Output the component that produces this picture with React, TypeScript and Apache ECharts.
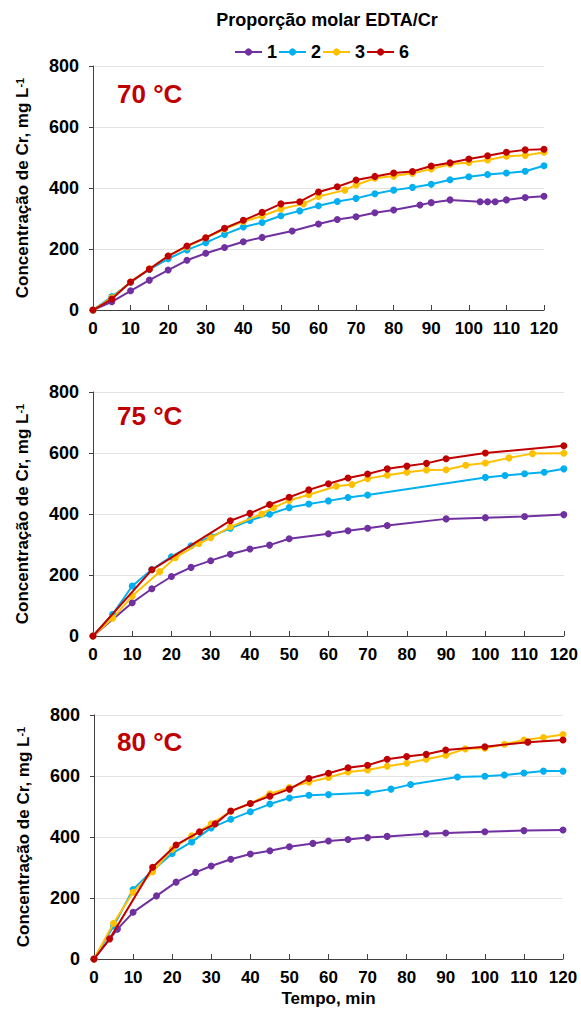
import React, { useEffect, useRef } from "react";
import * as echarts from "echarts";

// ---------- DATA ----------
const seriesNames = ["1", "2", "3", "6"];
const seriesColors = ["#7030A0", "#00B0F0", "#FFC000", "#C00000"];
const panelLabels = ["70 °C", "75 °C", "80 °C"];
const legendTitle = "Proporção molar EDTA/Cr";
const xAxisTitle = "Tempo, min";
const yAxisTitle = "Concentração de Cr, mg L";

// 70 °C
const t70_r1 = [[0,0],[5,27],[10,63],[15,98],[20,131],[25,163],[30,186],[35,205],[40,224],[45,238],[53,259],[60,282],[65,297],[70,306],[75,319],[80,328],[87,344],[90,352],[95,361],[103,355],[105,355],[107,355],[110,361],[115,369],[120,373]];
const t70_r2 = [[0,0],[5,44],[10,90],[15,133],[20,168],[25,197],[30,221],[35,248],[40,272],[45,287],[50,309],[55,325],[60,342],[65,356],[70,366],[75,381],[80,393],[85,402],[90,412],[95,427],[100,437],[105,444],[110,449],[115,455],[120,473]];
const t70_r3 = [[0,0],[5,40],[10,92],[15,135],[20,177],[25,207],[30,237],[35,265],[40,290],[45,308],[50,331],[56,348],[60,372],[67,393],[70,410],[75,432],[80,439],[85,448],[90,462],[95,478],[100,484],[105,492],[110,504],[115,507],[120,517]];
const t70_r6 = [[0,0],[5,36],[10,92],[15,134],[20,177],[25,210],[30,237],[35,268],[40,294],[45,320],[50,348],[55,355],[60,387],[65,404],[70,426],[75,438],[80,449],[85,454],[90,472],[95,483],[100,495],[105,506],[110,517],[115,525],[120,527]];

// 75 °C
const t75_r1 = [[0,0],[10,109],[15,155],[20,195],[25,225],[30,247],[35,268],[40,285],[45,298],[50,319],[60,335],[65,345],[70,353],[75,362],[90,384],[100,388],[110,392],[120,398]];
const t75_r2 = [[0,0],[5,71],[10,164],[15,218],[20,260],[25,296],[30,326],[35,353],[40,379],[45,399],[50,421],[55,433],[60,443],[65,454],[70,462],[100,520],[105,526],[110,532],[115,537],[120,548]];
const t75_r3 = [[0,0],[5,58],[10,131],[17,211],[21,257],[27,303],[30,322],[35,358],[43,400],[46,421],[50,444],[55,463],[62,491],[66,497],[70,516],[75,527],[80,537],[85,544],[90,545],[95,560],[100,567],[106,584],[112,598],[120,599]];
const t75_r6 = [[0,0],[15,217],[35,378],[40,402],[45,431],[50,455],[55,479],[60,499],[65,518],[70,531],[75,548],[80,557],[85,566],[90,581],[100,600],[120,624]];

// 80 °C
const t80_r1 = [[0,0],[6,98],[10,153],[16,207],[21,252],[26,284],[30,305],[35,327],[40,344],[45,355],[50,368],[56,379],[60,387],[65,392],[70,398],[75,402],[85,411],[90,413],[100,417],[110,421],[120,423]];
const t80_r2 = [[0,0],[5,108],[10,228],[15,290],[20,346],[25,384],[30,430],[35,458],[40,483],[45,508],[50,528],[55,537],[60,539],[70,545],[76,557],[81,572],[93,597],[100,599],[105,603],[110,610],[115,616],[120,616]];
const t80_r3 = [[0,0],[5,117],[10,219],[15,286],[20,360],[25,404],[30,443],[35,484],[40,510],[45,542],[50,562],[55,580],[60,595],[65,613],[70,620],[75,632],[80,642],[85,655],[90,668],[95,689],[100,691],[105,704],[110,718],[115,726],[120,736]];
const t80_r6 = [[0,0],[4,66],[15,301],[21,374],[27,417],[31,443],[35,485],[40,510],[45,534],[50,557],[55,592],[60,609],[65,627],[70,635],[75,655],[80,664],[85,671],[90,685],[100,696],[111,711],[120,718]];

const panelData = [
  [t70_r1, t70_r2, t70_r3, t70_r6],
  [t75_r1, t75_r2, t75_r3, t75_r6],
  [t80_r1, t80_r2, t80_r3, t80_r6],
];

const xMin = 0, xMax = 120, xStep = 10;
const yMin = 0, yMax = 800, yStep = 200;

// ---------- LAYOUT ----------
const FONT = "'Liberation Sans', Arial, sans-serif";
const grids = [
  { left: 93, right: 37, top: 66, height: 244 },
  { left: 93, right: 17, top: 392, height: 244 },
  { left: 94, right: 18, top: 715, height: 244 },
];
const labelTops = [81, 403, 729];

export default function App() {
  const ref = useRef<HTMLDivElement>(null);

  useEffect(() => {
    if (!ref.current) return;
    const chart = echarts.init(ref.current, null, { renderer: "svg" });

    const xAxes = grids.map((_, i) => ({
      type: "value",
      gridIndex: i,
      min: xMin,
      max: xMax,
      interval: xStep,
      name: i === 2 ? xAxisTitle : "",
      nameLocation: "middle",
      nameGap: 31,
      nameTextStyle: { fontFamily: FONT, fontWeight: "bold", fontSize: 17, color: "#000" },
      axisLine: { show: true, lineStyle: { color: "#404040", width: 1 } },
      axisTick: { show: true, inside: true, length: 5, lineStyle: { color: "#404040" } },
      axisLabel: { margin: 10, fontFamily: FONT, fontWeight: "bold", fontSize: 17, color: "#000" },
      splitLine: { show: false },
    }));

    const yAxes = grids.map((_, i) => ({
      type: "value",
      gridIndex: i,
      min: yMin,
      max: yMax,
      interval: yStep,
      name: "{n|" + yAxisTitle + "}{s|-1}",
      nameLocation: "middle",
      nameGap: 62,
      nameTextStyle: {
        rich: {
          n: { fontFamily: FONT, fontWeight: "bold", fontSize: 17, color: "#000" },
          s: { fontFamily: FONT, fontWeight: "bold", fontSize: 11, color: "#000", verticalAlign: "top" },
        },
      },
      axisLine: { show: true, lineStyle: { color: "#404040", width: 1 } },
      axisTick: { show: true, inside: false, length: 4, lineStyle: { color: "#404040" } },
      axisLabel: { margin: 14, fontFamily: FONT, fontWeight: "bold", fontSize: 18, color: "#000" },
      splitLine: { show: true, lineStyle: { color: "#e3e3e3", width: 1 } },
    }));

    const series: any[] = [];
    panelData.forEach((panel, pi) => {
      panel.forEach((data, si) => {
        series.push({
          type: "line",
          name: seriesNames[si],
          xAxisIndex: pi,
          yAxisIndex: pi,
          data,
          symbol: "circle",
          symbolSize: 7,
          showSymbol: true,
          lineStyle: { color: seriesColors[si], width: 2 },
          itemStyle: { color: seriesColors[si] },
          z: 2 + si,
        });
      });
    });

    const graphics: any[] = [
      {
        type: "text",
        x: 327,
        y: 11,
        style: {
          text: legendTitle,
          fontFamily: FONT,
          fontWeight: "bold",
          fontSize: 18,
          fill: "#000",
          textAlign: "center",
          textVerticalAlign: "top",
        },
      },
      ...panelLabels.map((t, i) => ({
        type: "text",
        left: 117,
        top: labelTops[i],
        style: { text: t, fontFamily: FONT, fontWeight: "bold", fontSize: 26, fill: "#C00000" },
      })),
    ];

    chart.setOption({
      animation: false,
      backgroundColor: "#fff",
      color: seriesColors,
      grid: grids.map((g) => ({ ...g, containLabel: false })),
      xAxis: xAxes,
      yAxis: yAxes,
      legend: {
        data: seriesNames,
        left: 229,
        top: 38,
        itemWidth: 27,
        itemHeight: 9,
        itemGap: 1,
        textStyle: { fontFamily: FONT, fontWeight: "bold", fontSize: 18, color: "#000" },
      },
      graphic: graphics,
      series,
    });

    return () => chart.dispose();
  }, []);

  return (
    <div
      ref={ref}
      style={{ position: "fixed", left: 0, top: 0, width: 581, height: 1012, background: "#fff" }}
    />
  );
}
